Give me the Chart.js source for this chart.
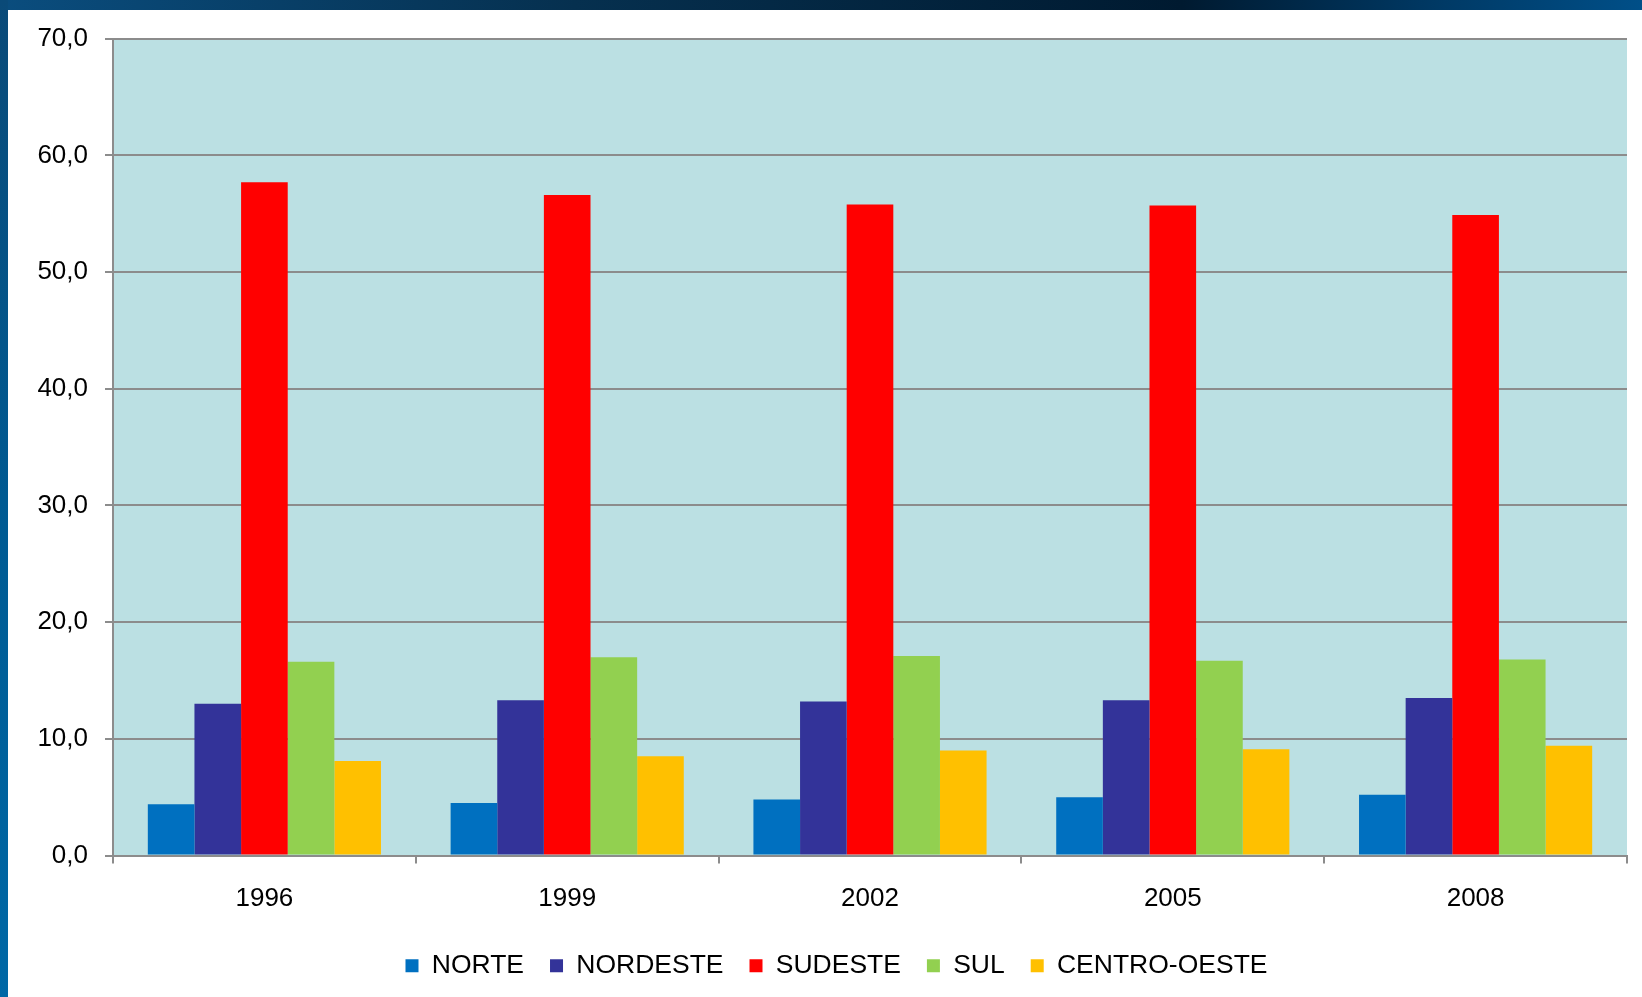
<!DOCTYPE html>
<html lang="pt">

<head>
  <meta charset="UTF-8">
  <title>Participação regional</title>
  <script src="https://cdn.jsdelivr.net/npm/chart.js"></script>
  <style>
    html, body { margin: 0; padding: 0; background: #fff; overflow: hidden; }
    body { width: 1642px; height: 997px; position: relative; }
    /* moldura azul do slide */
    .topo { position: absolute; left: 0; top: 0; width: 1642px; height: 10px;
      background: linear-gradient(to right, #0a4d7e 0%, #06304f 35%, #001a30 72%, #003a66 88%, #004f88 100%); }
    .lado { position: absolute; left: 0; top: 0; width: 8px; height: 997px;
      background: linear-gradient(to bottom, #0a4a78 0%, #005a92 50%, #0068a6 100%); }
    .grafico { position: absolute; left: 8px; top: 10px; width: 1634px; height: 987px; }
  </style>
</head>

<body>
  <div class="topo"></div>
  <div class="lado"></div>
  <div class="grafico">
    <canvas id="regioes"></canvas>
  </div>

  <script>
    // dados (%)
    const anos = ['1996', '1999', '2002', '2005', '2008'];
    const norte = [4.4, 4.5, 4.8, 5.0, 5.2];
    const nordeste = [13.0, 13.3, 13.2, 13.3, 13.5];
    const sudeste = [57.7, 56.6, 55.8, 55.7, 54.9];
    const sul = [16.6, 17.0, 17.1, 16.7, 16.8];
    const centroOeste = [8.1, 8.5, 9.0, 9.1, 9.4];

    const yMin = 0;
    const yMax = 70;
    const yPasso = 10;

    const cinza = '#8c8c8c';
    const familia = "'Liberation Sans', Arial, sans-serif";
    const fonte = { family: familia, size: 26 };

    // fundo da área do gráfico
    const fundoPlot = {
      id: 'fundoPlot',
      beforeDraw(chart) {
        const a = chart.chartArea;
        const ctx = chart.ctx;
        ctx.save();
        ctx.fillStyle = '#bbe0e3';
        ctx.fillRect(a.left, a.top, a.right - a.left, a.bottom - a.top);
        ctx.restore();
      }
    };

    // a legenda do original fica um pouco mais à direita
    const legendaDesloc = {
      id: 'legendaDesloc',
      afterLayout(chart) {
        chart.legend.left += 19;
        chart.legend.right += 19;
      }
    };

    const serie = (label, data, cor) => ({
      label: label,
      data: data,
      backgroundColor: cor,
      borderWidth: 0
    });

    new Chart(document.getElementById('regioes'), {
      type: 'bar',
      data: {
        labels: anos,
        datasets: [
          serie('NORTE', norte, '#0070c0'),
          serie('NORDESTE', nordeste, '#333399'),
          serie('SUDESTE', sudeste, '#ff0000'),
          serie('SUL', sul, '#92d050'),
          serie('CENTRO-OESTE', centroOeste, '#ffc000')
        ]
      },
      options: {
        responsive: true,
        maintainAspectRatio: false,
        animation: false,
        layout: { padding: { top: 26, right: 15, left: 0, bottom: 8 } },
        datasets: {
          bar: { categoryPercentage: 0.77, barPercentage: 1.0 }
        },
        plugins: {
          legend: {
            position: 'bottom',
            labels: {
              color: '#000',
              font: { family: familia, size: 26.5 },
              boxWidth: 13,
              boxHeight: 13,
              padding: 26
            }
          },
          tooltip: { enabled: false }
        },
        scales: {
          x: {
            offset: true,
            grid: {
              display: true,
              offset: true,
              drawOnChartArea: false,
              color: cinza,
              lineWidth: 2,
              tickLength: 8
            },
            border: { color: cinza, width: 2 },
            ticks: { color: '#000', font: fonte, padding: 20, maxRotation: 0 },
            afterFit(scale) { scale.height = 71; }
          },
          y: {
            min: yMin,
            max: yMax,
            grid: { color: cinza, lineWidth: 2, tickLength: 8 },
            border: { color: cinza, width: 2 },
            ticks: {
              stepSize: yPasso,
              color: '#000',
              font: { family: familia, size: 26, lineHeight: 0.9 },
              padding: 17,
              callback: v => v.toFixed(1).replace('.', ',')
            },
            afterFit(scale) { scale.width = 105; }
          }
        }
      },
      plugins: [fundoPlot, legendaDesloc]
    });
  </script>
</body>

</html>
